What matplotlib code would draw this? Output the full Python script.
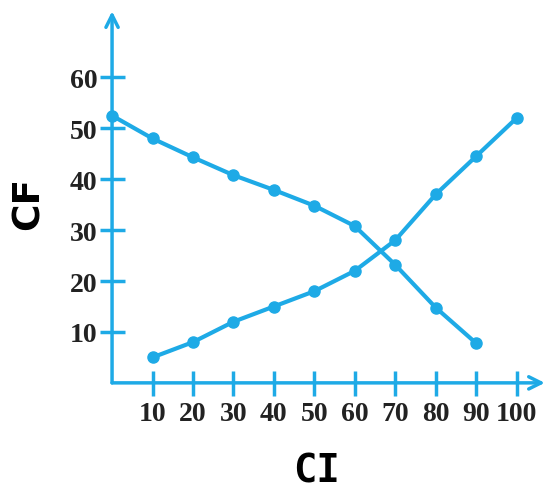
import matplotlib
matplotlib.use("Agg")
import matplotlib.pyplot as plt

# ogive data: less than / more than cumulative frequency
ci = [10, 20, 30, 40, 50, 60, 70, 80, 90, 100]
cf_less = [5, 8, 12, 15, 18, 22, 28, 37, 44.5, 52]

ci_more = [0, 10, 20, 30, 40, 50, 60, 70, 80, 90]
cf_more = [52.5, 48, 44.3, 40.8, 37.9, 34.8, 30.8, 23.2, 14.8, 7.8]

x_ticks = [10, 20, 30, 40, 50, 60, 70, 80, 90, 100]
y_ticks = [10, 20, 30, 40, 50, 60]

blue = '#1EAAE6'

fig = plt.figure(figsize=(5.52, 4.89), dpi=100)
ax = fig.add_axes([0.203, 0.215, 0.784, 0.76])
ax.set_xlim(0, 107)
ax.set_ylim(0, 73)

ax.plot(ci, cf_less, color=blue, lw=3, marker='o', ms=8, clip_on=False, zorder=3)
ax.plot(ci_more, cf_more, color=blue, lw=3, marker='o', ms=8, clip_on=False, zorder=3)

# axes with arrow heads
for s in ax.spines.values():
    s.set_visible(False)
ax.annotate('', xy=(107, 0), xytext=(0, 0), annotation_clip=False,
            arrowprops=dict(arrowstyle='->', color=blue, lw=2.5, mutation_scale=22,
                            shrinkA=0, shrinkB=0))
ax.annotate('', xy=(0, 73), xytext=(0, 0), annotation_clip=False,
            arrowprops=dict(arrowstyle='->', color=blue, lw=2.5, mutation_scale=22,
                            shrinkA=0, shrinkB=0))

ax.set_xticks(x_ticks)
ax.set_yticks(y_ticks)
ax.tick_params(direction='inout', length=18, width=2.5, color=blue,
               labelsize=20, pad=1.5)
ax.tick_params(axis='x', pad=4)
for lab in ax.get_xticklabels() + ax.get_yticklabels():
    lab.set_fontfamily('Liberation Serif')
    lab.set_fontweight('bold')
    lab.set_color('#222222')

fig.text(0.051, 0.583, 'CF', rotation=90, ha='center', va='center',
         fontsize=27, fontweight='bold', family='DejaVu Sans')
fig.text(0.574, 0.036, 'CI', ha='center', va='center',
         fontsize=28, fontweight='bold', family='DejaVu Sans Mono')

fig.savefig('out.png', dpi=100)
